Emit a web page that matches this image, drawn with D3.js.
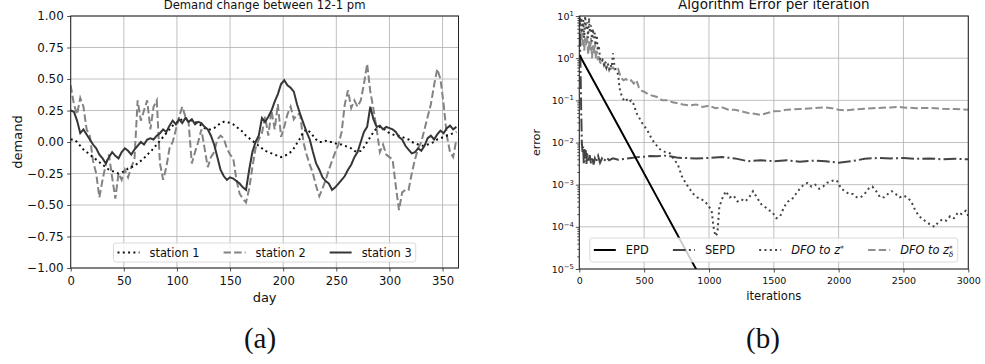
<!DOCTYPE html>
<html>
<head>
<meta charset="utf-8">
<script src="https://cdn.jsdelivr.net/npm/d3@7"></script>
<style>
  body { margin: 0; background: #fff; }
  svg { font-family: "DejaVu Sans", sans-serif; }
</style>
</head>
<body>
<div id="chart"></div>
<script>
// ---------- (a) demand change, one reading every 3 days ----------
const days = d3.range(0, 365, 3);
const station1 = [
   0.02,  0.02,  0.00, -0.03, -0.06, -0.08, -0.10, -0.12, -0.14, -0.16,
  -0.18, -0.20, -0.22, -0.23, -0.24, -0.25, -0.24, -0.23, -0.21, -0.20,
  -0.19, -0.17, -0.15, -0.13, -0.10, -0.08, -0.05, -0.02,  0.01,  0.04,
   0.07,  0.10,  0.13,  0.15,  0.17,  0.18,  0.19,  0.18,  0.17,  0.16,
   0.15,  0.13,  0.11,  0.10,  0.10,  0.11,  0.13,  0.15,  0.16,  0.16,
   0.15,  0.14,  0.12,  0.10,  0.08,  0.05,  0.03,  0.01, -0.01, -0.03,
  -0.05, -0.07, -0.08, -0.09, -0.10, -0.11, -0.12, -0.11, -0.10, -0.08,
  -0.05, -0.01,  0.03,  0.08,  0.10,  0.08,  0.05,  0.02,  0.00,  0.00,
   0.01,  0.00,  0.00, -0.01, -0.02, -0.02, -0.03, -0.04, -0.05, -0.07,
  -0.08, -0.07, -0.04,  0.00,  0.04,  0.08,  0.11,  0.12,  0.11,  0.09,
   0.07,  0.06,  0.05,  0.05,  0.04,  0.03,  0.02,  0.00, -0.01, -0.02,
  -0.03, -0.03, -0.02, -0.01,  0.00,  0.02,  0.03,  0.04,  0.05,  0.06,
   0.07,  0.08
];
const station2 = [
   0.45,  0.30,  0.22,  0.35,  0.28,  0.10,  0.05, -0.15, -0.25, -0.44,
  -0.30, -0.18, -0.10, -0.28, -0.45, -0.25, -0.30, -0.22, -0.28, -0.20,
  -0.14,  0.33,  0.17,  0.25,  0.33,  0.10,  0.28,  0.33, -0.17, -0.30,
  -0.20, -0.05,  0.00,  0.10,  0.20,  0.28,  0.20,  0.15, -0.17, -0.08,
   0.00,  0.10, -0.05, -0.20, -0.12, -0.08,  0.02,  0.05,  0.03, -0.05,
  -0.10, -0.13, -0.30, -0.41, -0.45, -0.48, -0.37, -0.20, -0.05,  0.02,
   0.07,  0.20,  0.05,  0.25,  0.10,  0.30,  0.04,  0.12,  0.22,  0.28,
   0.18,  0.22,  0.22,  0.00, -0.10, -0.18, -0.25, -0.35, -0.43, -0.37,
  -0.30, -0.22, -0.15, -0.08, -0.02,  0.08,  0.30,  0.41,  0.27,  0.33,
   0.28,  0.33,  0.46,  0.62,  0.40,  0.26,  0.10, -0.08, -0.02, -0.10,
  -0.12, -0.14, -0.35, -0.54, -0.40, -0.38, -0.38, -0.25, -0.14, -0.05,
   0.00,  0.10,  0.20,  0.30,  0.45,  0.58,  0.50,  0.30,  0.05, -0.08,
  -0.12,  0.02
];
const station3 = [
   0.25,  0.24,  0.17,  0.07,  0.10,  0.06,  0.02, -0.02, -0.05, -0.10,
  -0.13, -0.17, -0.12, -0.08, -0.11, -0.13, -0.08, -0.05, -0.07, -0.10,
  -0.06, -0.03,  0.00, -0.02,  0.02,  0.03,  0.02,  0.05,  0.07,  0.10,
   0.08,  0.13,  0.17,  0.14,  0.18,  0.15,  0.19,  0.16,  0.18,  0.14,
   0.16,  0.15,  0.12,  0.10,  0.05, -0.02, -0.12, -0.22, -0.27, -0.30,
  -0.28, -0.29, -0.31, -0.33, -0.36, -0.38, -0.22, -0.08,  0.00,  0.05,
   0.19,  0.16,  0.20,  0.25,  0.32,  0.38,  0.46,  0.49,  0.45,  0.43,
   0.40,  0.30,  0.22,  0.15,  0.08,  0.02, -0.08, -0.17, -0.22, -0.28,
  -0.31, -0.33, -0.38, -0.36, -0.33, -0.30, -0.27, -0.22, -0.18, -0.12,
  -0.08,  0.00,  0.08,  0.12,  0.28,  0.18,  0.12,  0.13,  0.10,  0.12,
   0.11,  0.10,  0.08,  0.04,  0.02, -0.03, -0.06, -0.09, -0.08, -0.05,
  -0.07, -0.03,  0.03,  0.05,  0.02,  0.06,  0.09,  0.07,  0.11,  0.13,
   0.10,  0.12
];
const dayTicks = [0, 50, 100, 150, 200, 250, 300, 350];
const demandTicks = [-1, -0.75, -0.5, -0.25, 0, 0.25, 0.5, 0.75, 1];

// ---------- (b) algorithm error, [iteration, error] ----------
const epd = [[0, 1.2], [300, 0.025], [600, 5e-4], [900, 1e-5], [1000, 2.7e-6]];
const sepd = [
  [0, 12], [5, 3], [10, 0.5], [15, 0.05], [20, 0.009], [25, 0.006], [30, 0.008], [35, 0.003],
  [40, 0.007], [45, 0.004], [50, 0.0065], [55, 0.003], [60, 0.0055], [70, 0.0035], [80, 0.005],
  [90, 0.0032], [100, 0.0045], [110, 0.003], [120, 0.0042], [130, 0.0035], [145, 0.0048],
  [160, 0.0033], [175, 0.0042], [190, 0.0036], [210, 0.0044], [230, 0.0038], [260, 0.0042],
  [300, 0.0039], [350, 0.0041], [400, 0.0043], [450, 0.0045], [500, 0.0046], [550, 0.0048],
  [600, 0.0047], [650, 0.0049], [700, 0.0047], [750, 0.0044], [800, 0.0043], [900, 0.0042],
  [1000, 0.0043], [1100, 0.0045], [1200, 0.0042], [1300, 0.0036], [1400, 0.0038], [1500, 0.0036],
  [1600, 0.0038], [1700, 0.0035], [1800, 0.0037], [1900, 0.0036], [2000, 0.0033], [2100, 0.0036],
  [2200, 0.0041], [2300, 0.0043], [2400, 0.0042], [2500, 0.0043], [2600, 0.0041], [2700, 0.0042],
  [2800, 0.004], [2900, 0.0041], [3000, 0.004]
];
const dfoStar = [
  [0, 12], [8, 6], [15, 9], [22, 4], [30, 8], [38, 3], [45, 10], [52, 5], [60, 7], [68, 3],
  [75, 9], [82, 4], [90, 6], [98, 2.5], [105, 5], [112, 3], [120, 4], [128, 2], [135, 3.5],
  [142, 1.5], [150, 2], [160, 1.0], [170, 0.8], [180, 0.9], [190, 0.7], [200, 0.85], [210, 0.6],
  [220, 0.75], [230, 0.55], [240, 0.7], [250, 0.6], [260, 1.3], [270, 0.7], [280, 0.55],
  [290, 0.5], [300, 0.4], [310, 0.2], [320, 0.15], [330, 0.12], [345, 0.1], [360, 0.11],
  [380, 0.09], [400, 0.1], [420, 0.08], [440, 0.05], [460, 0.04], [480, 0.03], [500, 0.025],
  [530, 0.018], [560, 0.012], [590, 0.009], [620, 0.007], [660, 0.006], [700, 0.0055],
  [730, 0.004], [760, 0.003], [790, 0.0016], [820, 0.0011], [850, 0.0008], [880, 0.0006],
  [910, 0.0005], [940, 0.00045], [970, 0.0004], [1000, 0.0003], [1020, 0.00025], [1035, 0.0001],
  [1050, 0.00006], [1065, 0.00007], [1080, 0.0003], [1100, 0.00045], [1130, 0.0007],
  [1160, 0.0005], [1190, 0.00055], [1220, 0.0004], [1250, 0.00045], [1280, 0.0004],
  [1310, 0.0005], [1340, 0.0007], [1370, 0.0005], [1400, 0.00035], [1430, 0.0003],
  [1460, 0.00025], [1490, 0.00022], [1520, 0.00016], [1550, 0.00018], [1580, 0.0003],
  [1610, 0.0004], [1640, 0.00045], [1670, 0.0006], [1700, 0.0008], [1730, 0.001],
  [1760, 0.0011], [1790, 0.0009], [1820, 0.001], [1850, 0.0008], [1880, 0.0009],
  [1910, 0.0011], [1940, 0.0012], [1970, 0.0013], [1990, 0.0012], [2020, 0.0008],
  [2050, 0.0007], [2080, 0.0006], [2110, 0.0006], [2140, 0.0005], [2170, 0.0005],
  [2200, 0.0006], [2230, 0.0008], [2260, 0.0009], [2290, 0.0007], [2320, 0.0005],
  [2350, 0.0005], [2380, 0.0006], [2410, 0.0007], [2440, 0.0006], [2470, 0.0005],
  [2500, 0.00055], [2530, 0.0005], [2560, 0.0004], [2590, 0.00025], [2620, 0.00018],
  [2650, 0.00015], [2680, 0.00013], [2710, 0.00011], [2740, 0.0001], [2770, 0.00013],
  [2800, 0.00015], [2830, 0.00014], [2860, 0.00018], [2890, 0.00016], [2920, 0.00022],
  [2950, 0.0002], [2980, 0.00024], [3000, 0.00018]
];
const dfoDelta = [
  [0, 8], [8, 3], [15, 5], [22, 2], [30, 4], [38, 1.5], [45, 3], [52, 2], [60, 3.5], [68, 1.2],
  [75, 2.5], [82, 1.5], [90, 3], [98, 1], [105, 2], [112, 1.3], [120, 2.5], [128, 1], [135, 1.5],
  [142, 0.9], [150, 1.2], [160, 0.8], [175, 0.7], [190, 0.75], [205, 0.6], [220, 0.65],
  [240, 0.55], [260, 0.6], [280, 0.5], [300, 0.55], [320, 0.35], [340, 0.3], [360, 0.32],
  [380, 0.28], [400, 0.3], [420, 0.25], [440, 0.3], [460, 0.2], [480, 0.17], [500, 0.16],
  [530, 0.14], [560, 0.13], [600, 0.12], [640, 0.1], [680, 0.1], [720, 0.09], [760, 0.085],
  [800, 0.08], [850, 0.075], [900, 0.08], [950, 0.07], [1000, 0.075], [1050, 0.065],
  [1100, 0.068], [1150, 0.06], [1200, 0.06], [1250, 0.055], [1300, 0.05], [1350, 0.048],
  [1400, 0.045], [1450, 0.05], [1500, 0.055], [1550, 0.056], [1600, 0.06], [1700, 0.062],
  [1800, 0.065], [1900, 0.068], [1950, 0.065], [2000, 0.06], [2050, 0.058], [2100, 0.06],
  [2200, 0.063], [2300, 0.066], [2400, 0.068], [2450, 0.07], [2500, 0.068], [2600, 0.065],
  [2700, 0.066], [2800, 0.063], [2900, 0.062], [3000, 0.06]
];
const iterTicks = [0, 500, 1000, 1500, 2000, 2500, 3000];
const errorTicks = [1e-5, 1e-4, 1e-3, 1e-2, 1e-1, 1e0, 1e1];

const gridColor = "#b0b0b0";
const textColor = "#111";

const svg = d3.select("#chart").append("svg")
    .attr("width", 985)
    .attr("height", 364)
    .style("font-family", "'DejaVu Sans', sans-serif");

// grid, clip and frame for one panel
function panel(id, box, x, y, xTicks, yTicks) {
    const g = svg.append("g").attr("class", id);
    g.append("clipPath").attr("id", "clip-" + id)
        .append("rect")
        .attr("x", box.left).attr("y", box.top)
        .attr("width", box.right - box.left).attr("height", box.bottom - box.top);

    g.append("g").selectAll("line").data(xTicks).join("line")
        .attr("x1", d => x(d)).attr("x2", d => x(d))
        .attr("y1", box.top).attr("y2", box.bottom)
        .attr("stroke", gridColor).attr("stroke-width", 0.8);
    g.append("g").selectAll("line").data(yTicks).join("line")
        .attr("x1", box.left).attr("x2", box.right)
        .attr("y1", d => y(d)).attr("y2", d => y(d))
        .attr("stroke", gridColor).attr("stroke-width", 0.8);

    g.plot = g.append("g").attr("clip-path", "url(#clip-" + id + ")");
    g.box = box;
    return g;
}

function finishFrame(g) {
    const b = g.box;
    g.append("rect")
        .attr("x", b.left).attr("y", b.top)
        .attr("width", b.right - b.left).attr("height", b.bottom - b.top)
        .attr("fill", "none").attr("stroke", "#222").attr("stroke-width", 1);
}

function styleAxis(sel, size) {
    sel.select(".domain").remove();
    sel.attr("font-family", null).attr("font-size", null);
    sel.selectAll(".tick line").attr("stroke", "#222").attr("stroke-width", 0.8);
    sel.selectAll(".tick text").attr("fill", textColor).style("font-size", size + "px");
}

// legend along the bottom centre of a panel
function legend(g, items, cx, bottom, height, fontSize) {
    const lg = g.append("g");
    const box = lg.append("rect");
    const midY = -height / 2;
    let x = 4;
    items.forEach(it => {
        lg.append("line")
            .attr("x1", x).attr("x2", x + 22)
            .attr("y1", midY).attr("y2", midY)
            .attr("stroke", it.color).attr("stroke-width", it.width)
            .attr("stroke-dasharray", it.dash || null);
        const t = lg.append("text")
            .attr("x", x + 32).attr("y", midY).attr("dy", "0.35em")
            .attr("fill", textColor).style("font-size", fontSize + "px");
        it.label(t);
        x += 32 + t.node().getBBox().width + 24;
    });
    const w = x - 24 + 4;
    box.attr("x", 0).attr("y", -height).attr("width", w).attr("height", height)
        .attr("rx", 2.5)
        .attr("fill", "#fff").attr("fill-opacity", 0.8)
        .attr("stroke", "#d0d0d0").attr("stroke-width", 0.8);
    lg.attr("transform", `translate(${cx - w / 2},${bottom})`);
}

// ---------- panel (a) ----------
const boxA = {left: 70.7, right: 458.5, top: 16, bottom: 268};
const xA = d3.scaleLinear().domain([0, 365]).range([boxA.left, boxA.right]);
const yA = d3.scaleLinear().domain([-1, 1]).range([boxA.bottom, boxA.top]);
const gA = panel("panelA", boxA, xA, yA, dayTicks, demandTicks);

const lineA = vals => d3.line().x((d, i) => xA(days[i])).y(d => yA(d))(vals);
gA.plot.append("path").attr("d", lineA(station2))
    .attr("fill", "none").attr("stroke", "#838383").attr("stroke-width", 2)
    .attr("stroke-dasharray", "7.4,3.2");
gA.plot.append("path").attr("d", lineA(station1))
    .attr("fill", "none").attr("stroke", "#111").attr("stroke-width", 2)
    .attr("stroke-dasharray", "2,3.3");
gA.plot.append("path").attr("d", lineA(station3))
    .attr("fill", "none").attr("stroke", "#363636").attr("stroke-width", 2);

gA.append("g").attr("transform", `translate(0,${boxA.bottom})`)
    .call(d3.axisBottom(xA).tickValues(dayTicks).tickSize(3.5).tickPadding(5).tickFormat(d3.format("d")))
    .call(s => styleAxis(s, 11.6));
gA.append("g").attr("transform", `translate(${boxA.left},0)`)
    .call(d3.axisLeft(yA).tickValues(demandTicks).tickSize(3.5).tickPadding(3.5).tickFormat(d3.format(".2f")))
    .call(s => styleAxis(s, 11.9));

legend(gA, [
    {color: "#111", width: 2, dash: "2,3.3", label: t => t.text("station 1")},
    {color: "#838383", width: 2, dash: "7.4,3.2", label: t => t.text("station 2")},
    {color: "#363636", width: 2, label: t => t.text("station 3")}
], (boxA.left + boxA.right) / 2, 262, 19, 11.4);
finishFrame(gA);

gA.append("text").attr("x", (boxA.left + boxA.right) / 2).attr("y", 9)
    .attr("text-anchor", "middle").attr("fill", textColor).style("font-size", "11.6px")
    .text("Demand change between 12-1 pm");
gA.append("text").attr("x", (boxA.left + boxA.right) / 2).attr("y", 302)
    .attr("text-anchor", "middle").attr("fill", textColor).style("font-size", "13px")
    .text("day");
gA.append("text").attr("transform", `translate(22,${(boxA.top + boxA.bottom) / 2}) rotate(-90)`)
    .attr("text-anchor", "middle").attr("fill", textColor).style("font-size", "13px")
    .text("demand");

// ---------- panel (b) ----------
const boxB = {left: 579.3, right: 968.3, top: 16, bottom: 269};
const xB = d3.scaleLinear().domain([0, 3000]).range([boxB.left, boxB.right]);
const yB = d3.scaleLog().domain([1e-5, 1e1]).range([boxB.bottom, boxB.top]);
const gB = panel("panelB", boxB, xB, yB, iterTicks, errorTicks);

const lineB = d3.line().x(d => xB(d[0])).y(d => yB(d[1]));
const seriesB = [
    {data: dfoDelta, color: "#8e8e8e", width: 2, dash: "7.4,3.2"},
    {data: dfoStar, color: "#444", width: 2, dash: "2,3.3"},
    {data: sepd, color: "#444", width: 2, dash: "12.8,3.2,2,3.2"},
    {data: epd, color: "#000", width: 2}
];
seriesB.forEach(s => {
    gB.plot.append("path").attr("d", lineB(s.data))
        .attr("fill", "none").attr("stroke", s.color).attr("stroke-width", s.width)
        .attr("stroke-dasharray", s.dash || null);
});

gB.append("g").attr("transform", `translate(0,${boxB.bottom})`)
    .call(d3.axisBottom(xB).tickValues(iterTicks).tickSize(3.5).tickPadding(5).tickFormat(d3.format("d")))
    .call(s => styleAxis(s, 9.5));

const minorTicks = [];
errorTicks.slice(0, -1).forEach(p => d3.range(2, 10).forEach(k => minorTicks.push(p * k)));
gB.append("g").attr("transform", `translate(${boxB.left},0)`)
    .call(d3.axisLeft(yB).tickValues(minorTicks).tickSize(2).tickFormat(""))
    .call(s => styleAxis(s, 9.5));
gB.append("g").attr("transform", `translate(${boxB.left},0)`)
    .call(d3.axisLeft(yB).tickValues(errorTicks).tickSize(3.5).tickPadding(2).tickFormat(""))
    .call(s => styleAxis(s, 9.5))
    .call(s => s.selectAll(".tick text").each(function (d) {
        const e = Math.round(Math.log10(d));
        const t = d3.select(this);
        t.text("10");
        t.append("tspan").attr("dy", "-0.5em").style("font-size", "0.72em")
            .text(e < 0 ? "\u2212" + (-e) : String(e));
    }));

legend(gB, [
    {color: "#000", width: 2, label: t => t.text("EPD")},
    {color: "#444", width: 2, dash: "12.8,3.2,2,3.2", label: t => t.text("SEPD")},
    {color: "#444", width: 2, dash: "2,3.3", label: t => {
        t.append("tspan").style("font-style", "italic").text("DFO to z");
        t.append("tspan").attr("dy", "-0.45em").style("font-size", "0.65em").text("*");
    }},
    {color: "#8e8e8e", width: 2, dash: "7.4,3.2", label: t => {
        t.append("tspan").style("font-style", "italic").text("DFO to z");
        t.append("tspan").attr("dy", "-0.45em").style("font-size", "0.65em").text("*");
        t.append("tspan").attr("dx", "-4").attr("dy", "0.85em").style("font-size", "0.65em")
            .style("font-style", "italic").text("\u03b4");
    }}
], (boxB.left + boxB.right) / 2, 262, 24, 11.4);
finishFrame(gB);

gB.append("text").attr("x", (boxB.left + boxB.right) / 2).attr("y", 9)
    .attr("text-anchor", "middle").attr("fill", textColor).style("font-size", "13.5px")
    .text("Algorithm Error per iteration");
gB.append("text").attr("x", (boxB.left + boxB.right) / 2).attr("y", 300)
    .attr("text-anchor", "middle").attr("fill", textColor).style("font-size", "11.6px")
    .text("iterations");
gB.append("text").attr("transform", `translate(540,${(boxB.top + boxB.bottom) / 2}) rotate(-90)`)
    .attr("text-anchor", "middle").attr("fill", textColor).style("font-size", "11.2px")
    .text("error");

// sub-figure captions
svg.append("text").attr("x", 260).attr("y", 348).attr("text-anchor", "middle")
    .attr("fill", textColor).style("font-family", "'Liberation Serif', serif").style("font-size", "29px")
    .text("(a)");
svg.append("text").attr("x", 763).attr("y", 348).attr("text-anchor", "middle")
    .attr("fill", textColor).style("font-family", "'Liberation Serif', serif").style("font-size", "29px")
    .text("(b)");
</script>
</body>
</html>
